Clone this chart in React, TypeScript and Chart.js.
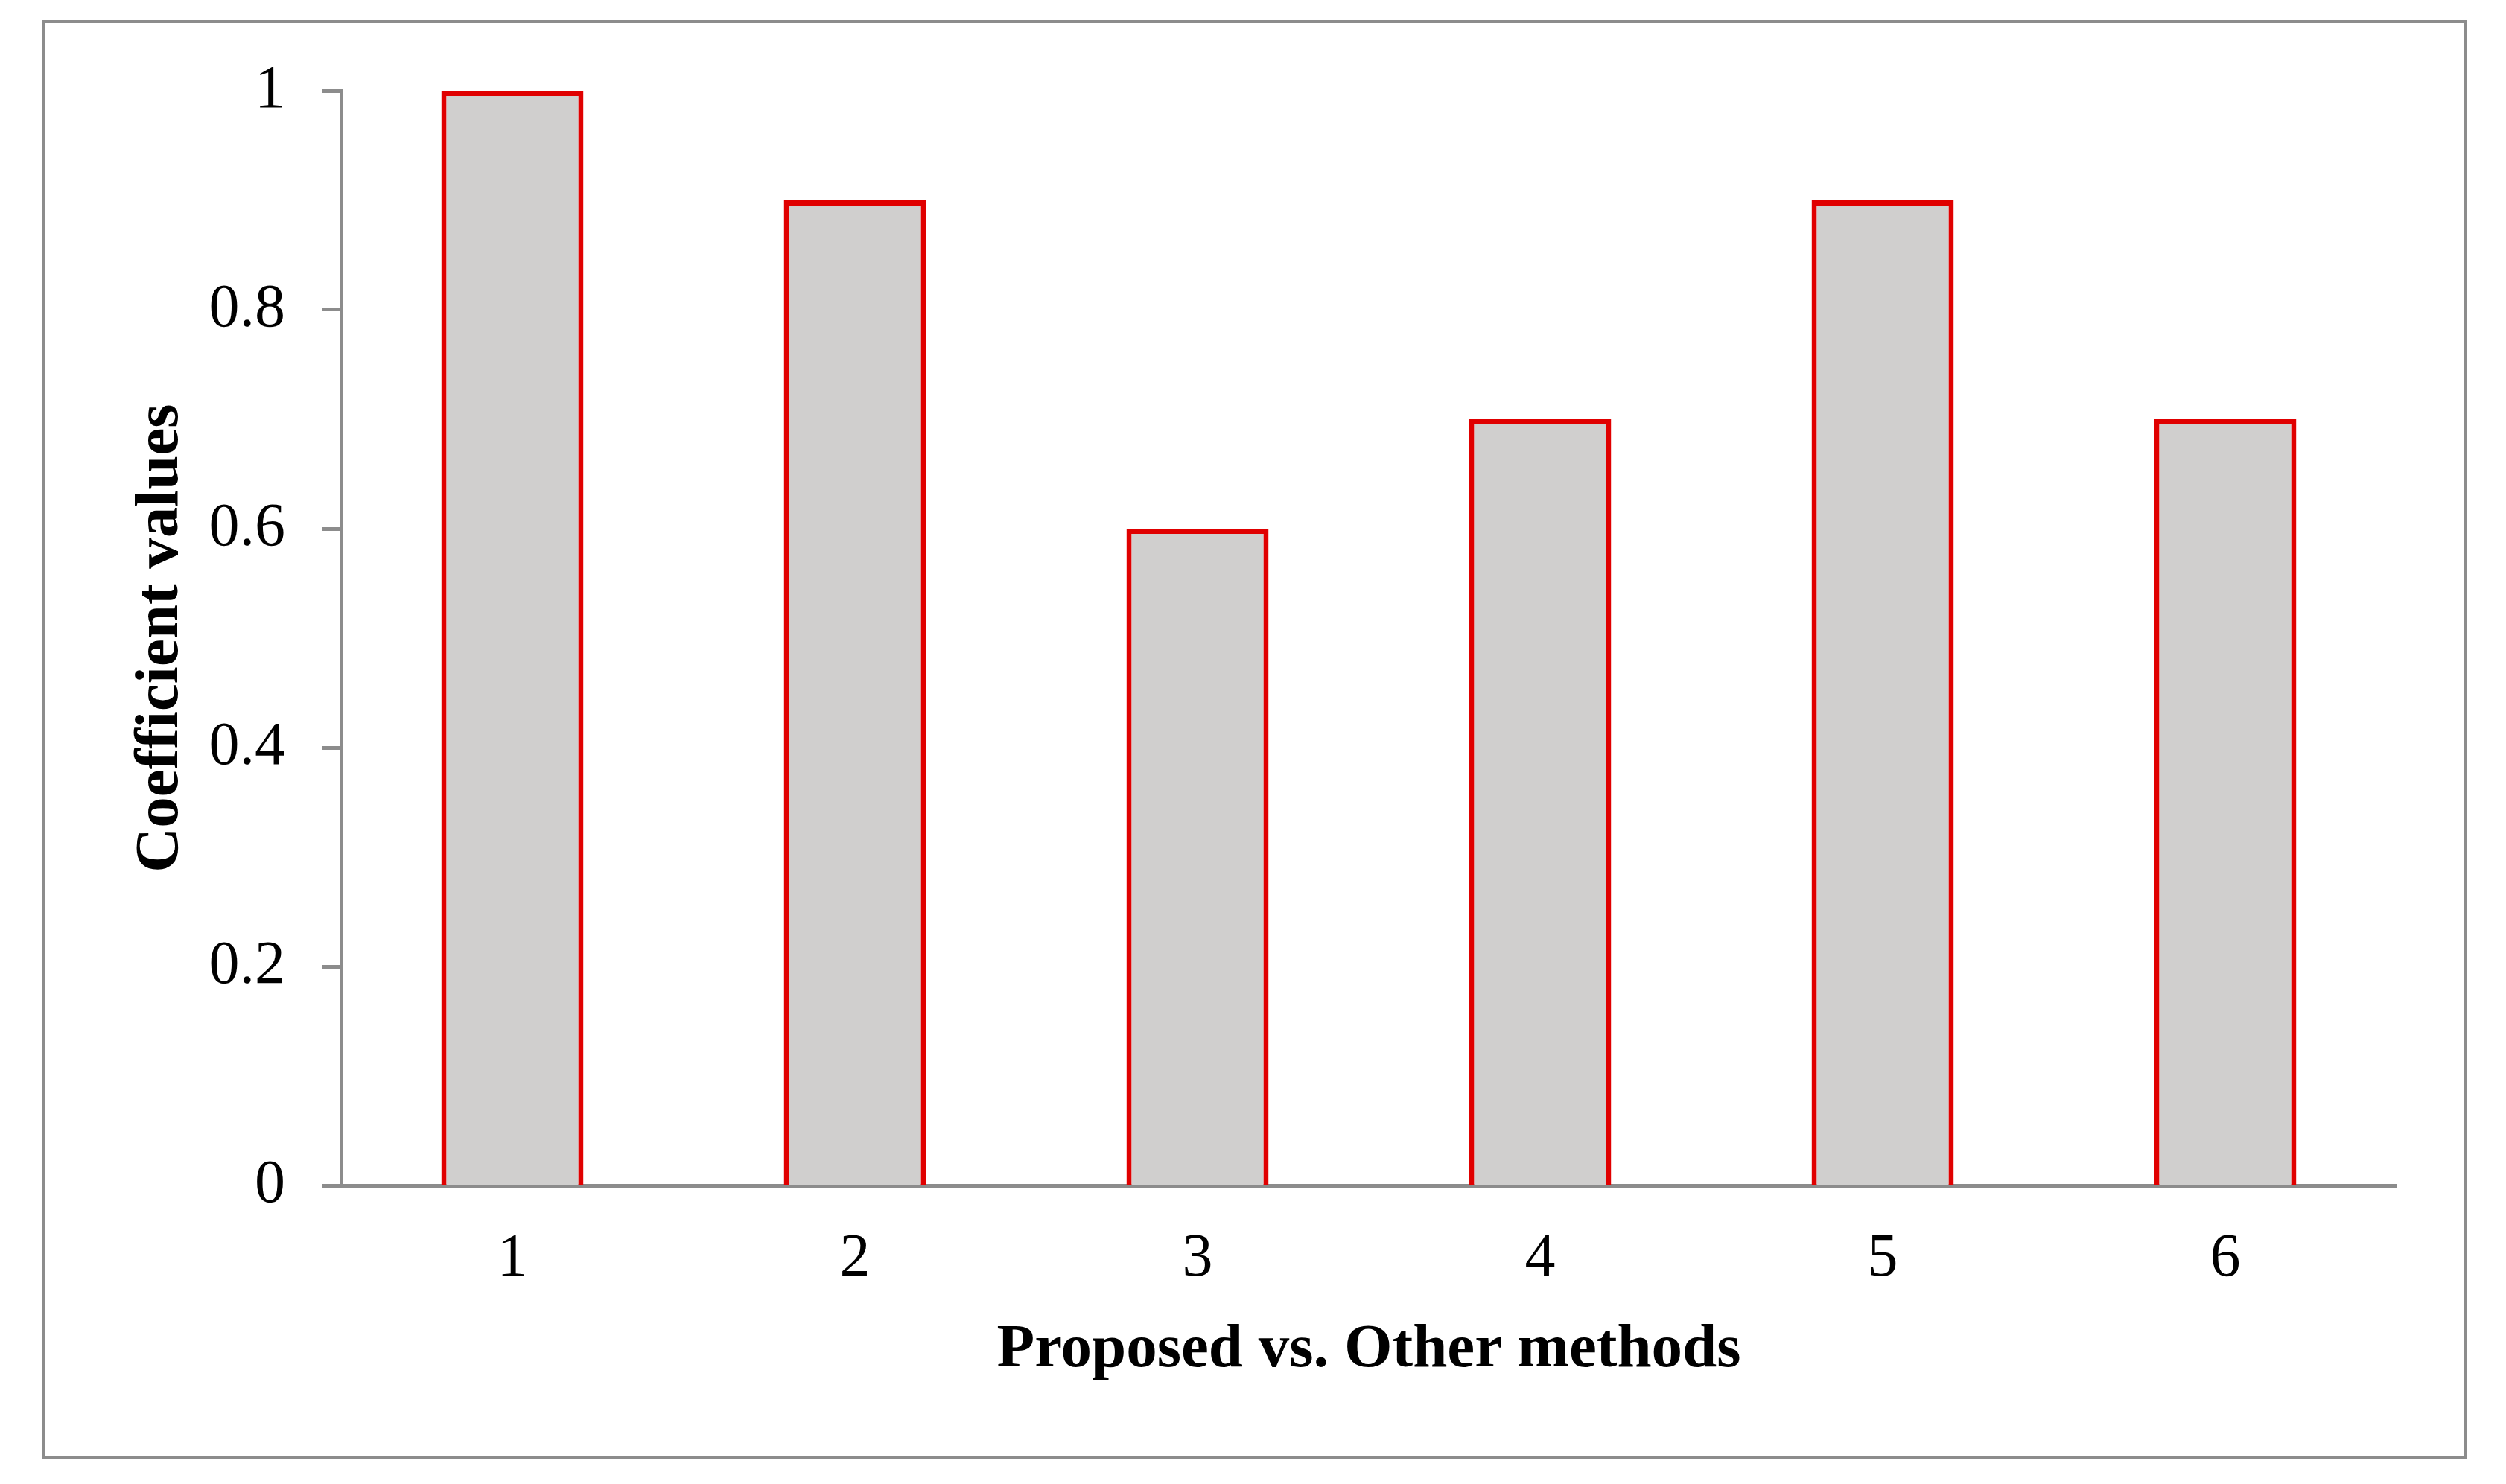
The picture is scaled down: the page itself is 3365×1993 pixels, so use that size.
import React, { useEffect, useRef } from "react";
import { Chart, registerables } from "chart.js";

Chart.register(...registerables);

const categories = ["1", "2", "3", "4", "5", "6"];
const coefficientValues = [1, 0.9, 0.6, 0.7, 0.9, 0.7];
const yTickLabels = ["0", "0.2", "0.4", "0.6", "0.8", "1"];
const xTitle = "Proposed vs. Other methods";
const yTitle = "Coefficient values";

const W = 3349;
const H = 1977;
const GRAY = "#8c8c8c";
const SERIF = "'Liberation Serif', 'Times New Roman', serif";

const framePlugin = {
  id: "frame",
  beforeDraw(chart: any) {
    const ctx = chart.ctx;
    ctx.save();
    ctx.fillStyle = "#ffffff";
    ctx.fillRect(0, 0, chart.width, chart.height);
    ctx.strokeStyle = GRAY;
    ctx.lineWidth = 4;
    ctx.strokeRect(50, 21, 3253, 1929);
    ctx.restore();
  },
};

export default function App() {
  const ref = useRef<HTMLCanvasElement | null>(null);

  useEffect(() => {
    if (!ref.current) return;
    const chart = new Chart(ref.current, {
      type: "bar",
      data: {
        labels: categories,
        datasets: [
          {
            data: coefficientValues,
            backgroundColor: "#d0cfce",
            borderColor: "#e00000",
            borderWidth: 7,
            categoryPercentage: 1,
            barPercentage: 0.415,
          },
        ],
      },
      plugins: [framePlugin],
      options: {
        responsive: false,
        animation: false,
        devicePixelRatio: 1,
        layout: { padding: { top: 114, right: 139, left: 0, bottom: 0 } },
        plugins: { legend: { display: false }, tooltip: { enabled: false } },
        scales: {
          x: {
            offset: true,
            grid: { display: false, drawTicks: false, tickLength: 0 },
            border: { display: true, color: GRAY, width: 5 },
            ticks: {
              color: "#000",
              padding: 50,
              font: { family: SERIF, size: 82 },
            },
            title: {
              display: true,
              text: xTitle,
              color: "#000",
              padding: { top: 0, bottom: 122 },
              font: { family: SERIF, size: 83, weight: "bold" },
            },
            afterFit(scale: any) {
              scale.height = 393;
            },
          },
          y: {
            min: 0,
            max: 1,
            ticks: {
              stepSize: 0.2,
              color: "#000",
              padding: 50,
              font: { family: SERIF, size: 82 },
              callback: (_v: any, i: number) => yTickLabels[i],
            },
            grid: {
              display: true,
              drawOnChartArea: false,
              drawTicks: true,
              tickLength: 25,
              tickWidth: 5,
              tickColor: GRAY,
              color: GRAY,
            },
            border: { display: true, color: GRAY, width: 5 },
            title: {
              display: true,
              text: yTitle,
              color: "#000",
              padding: { top: 159, bottom: 0 },
              font: { family: SERIF, size: 83, weight: "bold" },
            },
            afterFit(scale: any) {
              scale.width = 450;
            },
          },
        },
      },
    } as any);
    return () => chart.destroy();
  }, []);

  return (
    <div style={{ width: W, height: H }}>
      <canvas ref={ref} width={W} height={H} style={{ display: "block", width: W, height: H }} />
    </div>
  );
}
